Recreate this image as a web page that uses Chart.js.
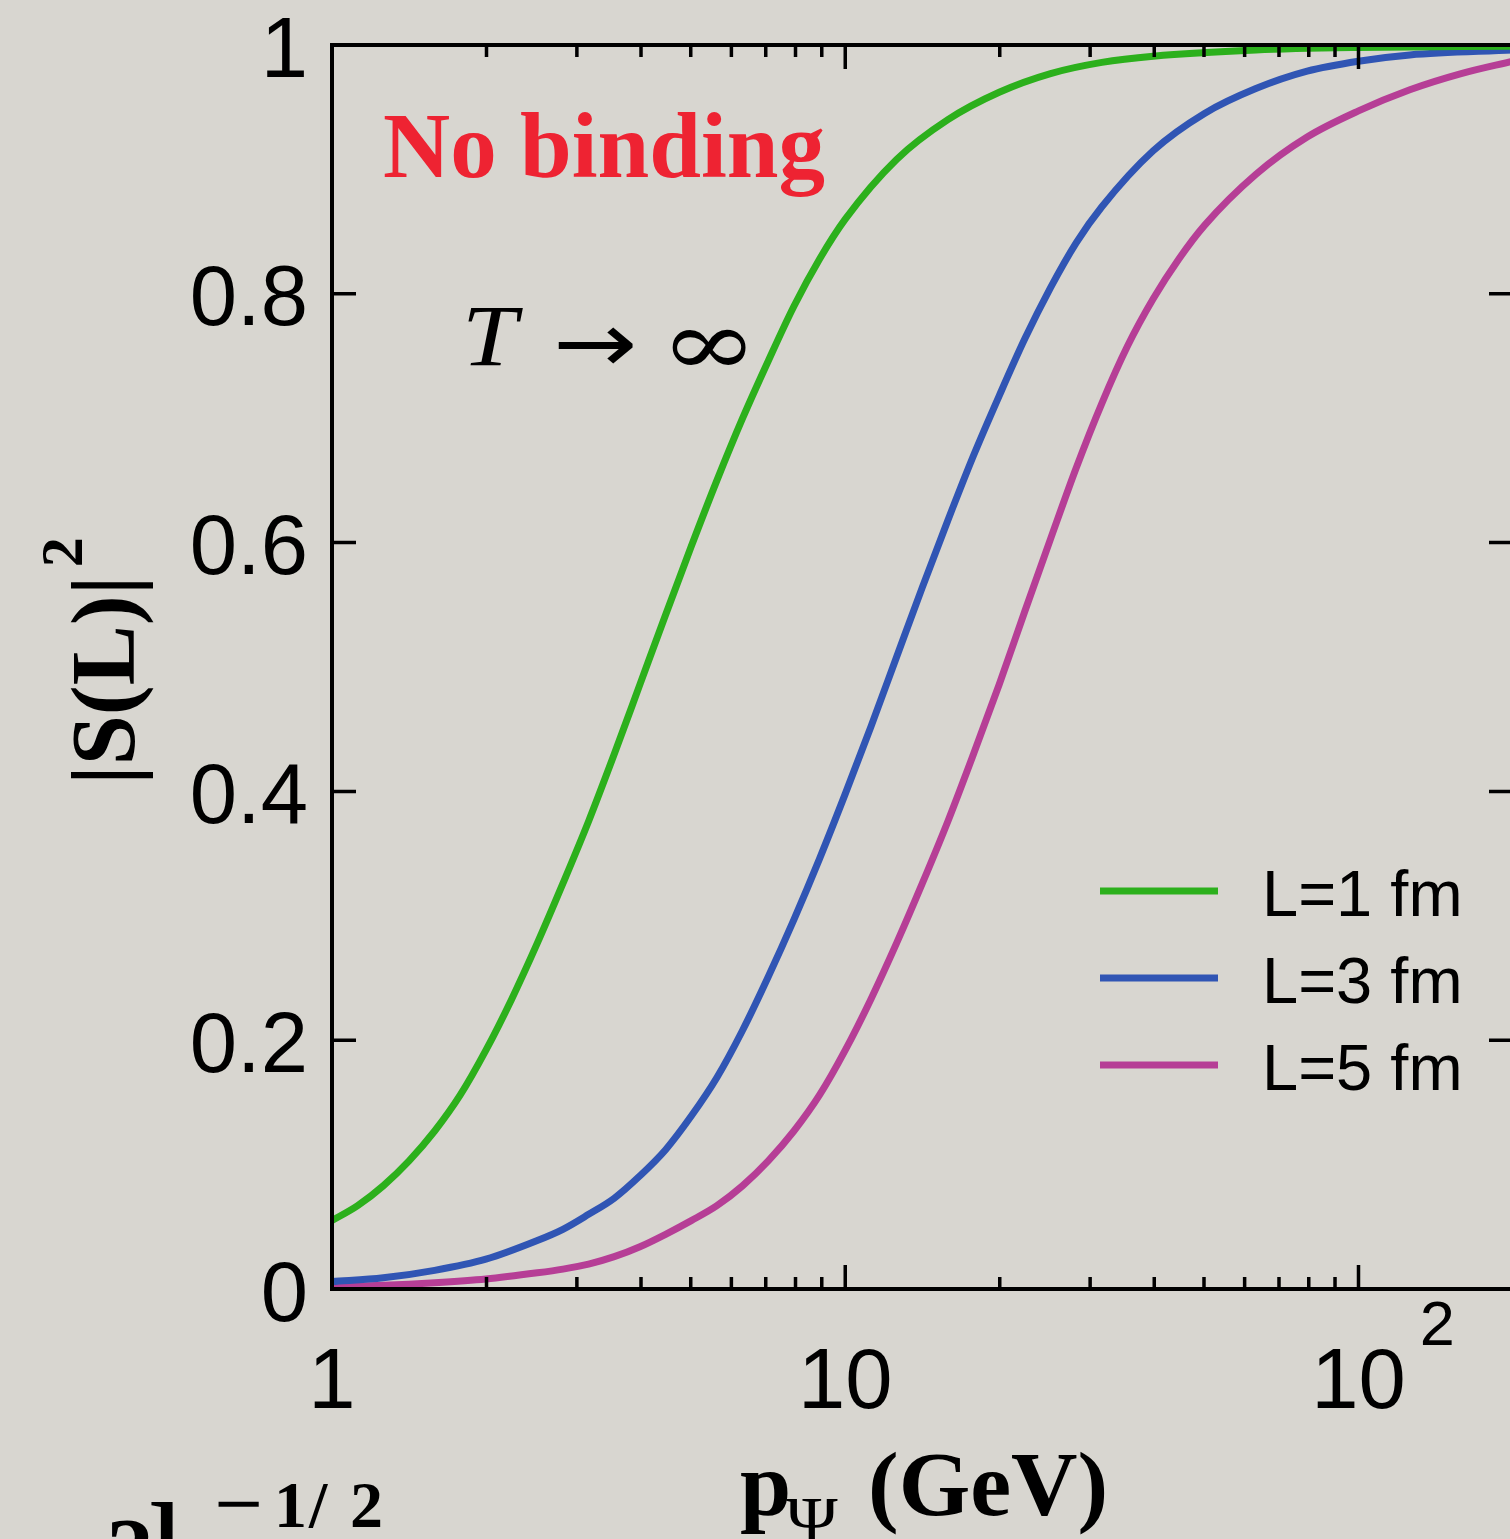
<!DOCTYPE html>
<html><head><meta charset="utf-8">
<script src="https://cdn.jsdelivr.net/npm/chart.js@4/dist/chart.umd.min.js"></script>
<style>
html,body{margin:0;padding:0;overflow:hidden;background:#d8d6d0;width:1510px;height:1539px;}
#wrap{position:absolute;left:0;top:0;width:1530px;height:1539px;}
</style></head><body>
<div id="wrap"><canvas id="c" width="1530" height="1539"></canvas></div>
<script>
// ---- data ----
const pL1 = [1, 1.122, 1.259, 1.413, 1.585, 1.778, 1.995, 2.239, 2.512, 2.818, 3.162, 3.548, 3.981, 4.467, 5.012, 5.623, 6.31, 7.079, 7.943, 8.913, 10, 12.59, 15.85, 19.95, 25.12, 31.62, 39.81, 63.1, 100, 200];
const sL1 = [0.055, 0.067, 0.083, 0.103, 0.127, 0.156, 0.192, 0.233, 0.278, 0.326, 0.376, 0.43, 0.486, 0.542, 0.597, 0.65, 0.70, 0.746, 0.79, 0.828, 0.86, 0.908, 0.94, 0.962, 0.977, 0.986, 0.991, 0.996, 0.998, 0.999];
const pL3 = [1, 1.259, 1.585, 1.995, 2.512, 2.818, 3.162, 3.548, 3.981, 4.467, 5.012, 5.623, 6.31, 7.079, 7.943, 8.913, 10, 11.22, 12.59, 14.13, 15.85, 17.78, 19.95, 22.39, 25.12, 28.18, 31.62, 39.81, 50.12, 63.1, 79.43, 100, 125.9, 200];
const sL3 = [0.006, 0.009, 0.015, 0.024, 0.039, 0.048, 0.060, 0.073, 0.091, 0.112, 0.139, 0.170, 0.208, 0.251, 0.297, 0.346, 0.398, 0.452, 0.508, 0.564, 0.618, 0.67, 0.718, 0.764, 0.805, 0.841, 0.87, 0.915, 0.945, 0.965, 0.979, 0.987, 0.992, 0.996];
const pL5 = [1, 1.259, 1.585, 1.995, 2.512, 2.818, 3.162, 3.548, 3.981, 4.467, 5.012, 5.623, 6.31, 7.079, 7.943, 8.913, 10, 11.22, 12.59, 14.13, 15.85, 17.78, 19.95, 22.39, 25.12, 28.18, 31.62, 35.48, 39.81, 44.67, 50.12, 63.1, 79.43, 100, 125.9, 158.5, 200];
const sL5 = [0.002, 0.003, 0.005, 0.008, 0.013, 0.016, 0.020, 0.026, 0.034, 0.044, 0.055, 0.067, 0.083, 0.103, 0.127, 0.156, 0.192, 0.233, 0.278, 0.326, 0.376, 0.43, 0.486, 0.545, 0.603, 0.66, 0.712, 0.758, 0.796, 0.828, 0.855, 0.896, 0.926, 0.947, 0.964, 0.977, 0.987];

const seriesLabels = ['L=1 fm', 'L=3 fm', 'L=5 fm'];
const seriesColors = ['#2cb01c', '#3055b4', '#b63e96'];

const yTickValues = [0, 0.2, 0.4, 0.6, 0.8, 1];
const yTickLabels = ['0', '0.2', '0.4', '0.6', '0.8', '1'];
const xMajorTicks = [1, 10, 100];
const xTickLabels = ['1', '10', '10'];
const xTickSups = ['', '', '2'];
const xMinorTicks = [2, 3, 4, 5, 6, 7, 8, 9, 20, 30, 40, 50, 60, 70, 80, 90, 200];
const xMin = 1, xMax = 200, yMin = 0, yMax = 1;

const xTitleMain = 'p';
const xTitleSub = 'Ψ';
const xTitleRest = '(GeV)';
const yTitleMain = '|S(L)|';
const yTitleSup = '2';
const annText1 = 'No binding';
const annT = 'T', annArrow = '→', annInf = '∞';

function pairs(xs, ys) { return xs.map((x, i) => ({x: x, y: ys[i]})); }

const SANS = '"Liberation Sans", Arial, Helvetica, sans-serif';
const SERIF = '"Liberation Serif", "Times New Roman", serif';

const decor = {
  id: 'decor',
  beforeDraw(chart) {
    const ctx = chart.ctx;
    ctx.save();
    ctx.fillStyle = '#d8d6d0';
    ctx.fillRect(0, 0, chart.width, chart.height);
    ctx.restore();
  },
  afterDraw(chart) {
    const ctx = chart.ctx;
    const xs = chart.scales.x, ys = chart.scales.y;
    const a = chart.chartArea;
    ctx.save();
    ctx.strokeStyle = '#000';
    ctx.fillStyle = '#000';
    ctx.lineWidth = 4;
    ctx.lineCap = 'butt';
    // frame
    ctx.beginPath();
    ctx.rect(a.left, a.top, a.right - a.left, a.bottom - a.top);
    ctx.stroke();
    ctx.lineWidth = 3.5;
    // x ticks (bottom & top)
    const tick = (v, len) => {
      const px = xs.getPixelForValue(v);
      ctx.beginPath();
      ctx.moveTo(px, a.bottom); ctx.lineTo(px, a.bottom - len);
      ctx.moveTo(px, a.top); ctx.lineTo(px, a.top + len);
      ctx.stroke();
    };
    xMajorTicks.forEach(v => tick(v, 24));
    xMinorTicks.forEach(v => tick(v, 12));
    // y ticks (left & right)
    yTickValues.forEach(v => {
      const py = ys.getPixelForValue(v);
      ctx.beginPath();
      ctx.moveTo(a.left, py); ctx.lineTo(a.left + 24, py);
      ctx.moveTo(a.right, py); ctx.lineTo(a.right - 24, py);
      ctx.stroke();
    });
    // y tick labels
    ctx.font = '85px ' + SANS;
    ctx.textAlign = 'right';
    ctx.textBaseline = 'alphabetic';
    yTickValues.forEach((v, i) => {
      const py = ys.getPixelForValue(v);
      ctx.fillText(yTickLabels[i], 308, py + 31.5);
    });
    // x tick labels
    xMajorTicks.forEach((v, i) => {
      const px = xs.getPixelForValue(v);
      ctx.font = '85px ' + SANS;
      ctx.textAlign = 'center';
      ctx.fillText(xTickLabels[i], px, 1408);
      if (xTickSups[i]) {
        const w = ctx.measureText(xTickLabels[i]).width;
        ctx.font = '63px ' + SANS;
        ctx.textAlign = 'left';
        ctx.fillText(xTickSups[i], px + w / 2 + 14, 1345);
      }
    });
    // legend
    chart.data.datasets.forEach((ds, i) => {
      const y = 891 + i * 87;
      ctx.strokeStyle = ds.borderColor;
      ctx.lineWidth = 7;
      ctx.beginPath(); ctx.moveTo(1100, y); ctx.lineTo(1218, y); ctx.stroke();
      ctx.fillStyle = '#000';
      ctx.font = '65px ' + SANS;
      ctx.textAlign = 'left';
      ctx.fillText(ds.label, 1262, y + 25);
    });
    // "No binding"
    ctx.fillStyle = '#ee2332';
    ctx.font = 'bold 93px ' + SERIF;
    ctx.textAlign = 'left';
    ctx.fillText(annText1, 383, 177);
    // T -> infinity
    ctx.fillStyle = '#000';
    ctx.save();
    ctx.translate(462, 365);
    ctx.scale(1.15, 1);
    ctx.font = 'italic 86px ' + SERIF;
    ctx.fillText(annT, 0, 0);
    ctx.restore();
    ctx.save();
    ctx.translate(553, 372);
    ctx.scale(1.2, 1);
    ctx.font = '84px "DejaVu Sans", sans-serif';
    ctx.fillText(annArrow, 0, 0);
    ctx.restore();
    ctx.save();
    ctx.translate(660, 375);
    ctx.scale(1.28, 1);
    ctx.font = '92px "DejaVu Serif", serif';
    ctx.fillText(annInf, 0, 0);
    ctx.restore();
    // x title
    ctx.font = 'bold 92px ' + SERIF;
    ctx.fillText(xTitleMain, 740, 1515);
    ctx.font = '70px ' + SERIF;
    ctx.fillText(xTitleSub, 786, 1545);
    ctx.font = 'bold 92px ' + SERIF;
    ctx.fillText(xTitleRest, 868, 1515);
    // y title (rotated)
    ctx.save();
    ctx.translate(134, 785);
    ctx.rotate(-Math.PI / 2);
    ctx.font = 'bold 90px ' + SERIF;
    ctx.textAlign = 'left';
    ctx.fillText(yTitleMain, 0, 0);
    const wy = ctx.measureText(yTitleMain).width;
    ctx.font = 'bold 60px ' + SERIF;
    ctx.fillText(yTitleSup, wy + 8, -52);
    ctx.restore();
    // clipped formula fragment at bottom-left
    ctx.font = 'bold 95px ' + SERIF;
    ctx.fillText('λ', 30, 1612);
    ctx.fillText('2', 106, 1584);
    ctx.fillText(']', 148, 1568);
    ctx.save();
    ctx.translate(214, 1528);
    ctx.scale(1.2, 1);
    ctx.font = 'bold 72px ' + SERIF;
    ctx.fillText('−', 0, 0);
    ctx.restore();
    ctx.font = 'bold 66px ' + SERIF;
    ctx.fillText('1', 274, 1527);
    ctx.fillText('/', 309, 1527);
    ctx.fillText('2', 350, 1527);
    ctx.restore();
  }
};

const mk = (label, xs, ys, color) => ({
  label: label,
  data: pairs(xs, ys),
  borderColor: color,
  backgroundColor: color,
  borderWidth: 7,
  pointRadius: 0,
  showLine: true,
  fill: false,
  cubicInterpolationMode: 'monotone'
});

new Chart(document.getElementById('c'), {
  type: 'scatter',
  data: {
    datasets: [
      mk(seriesLabels[0], pL1, sL1, seriesColors[0]),
      mk(seriesLabels[1], pL3, sL3, seriesColors[1]),
      mk(seriesLabels[2], pL5, sL5, seriesColors[2])
    ]
  },
  options: {
    responsive: false,
    animation: false,
    layout: { padding: { left: 332, top: 45, right: 17, bottom: 250 } },
    plugins: { legend: { display: false }, tooltip: { enabled: false } },
    scales: {
      x: { type: 'logarithmic', min: xMin, max: xMax, display: false },
      y: { type: 'linear', min: yMin, max: yMax, display: false }
    }
  },
  plugins: [decor]
});
</script>
</body></html>
